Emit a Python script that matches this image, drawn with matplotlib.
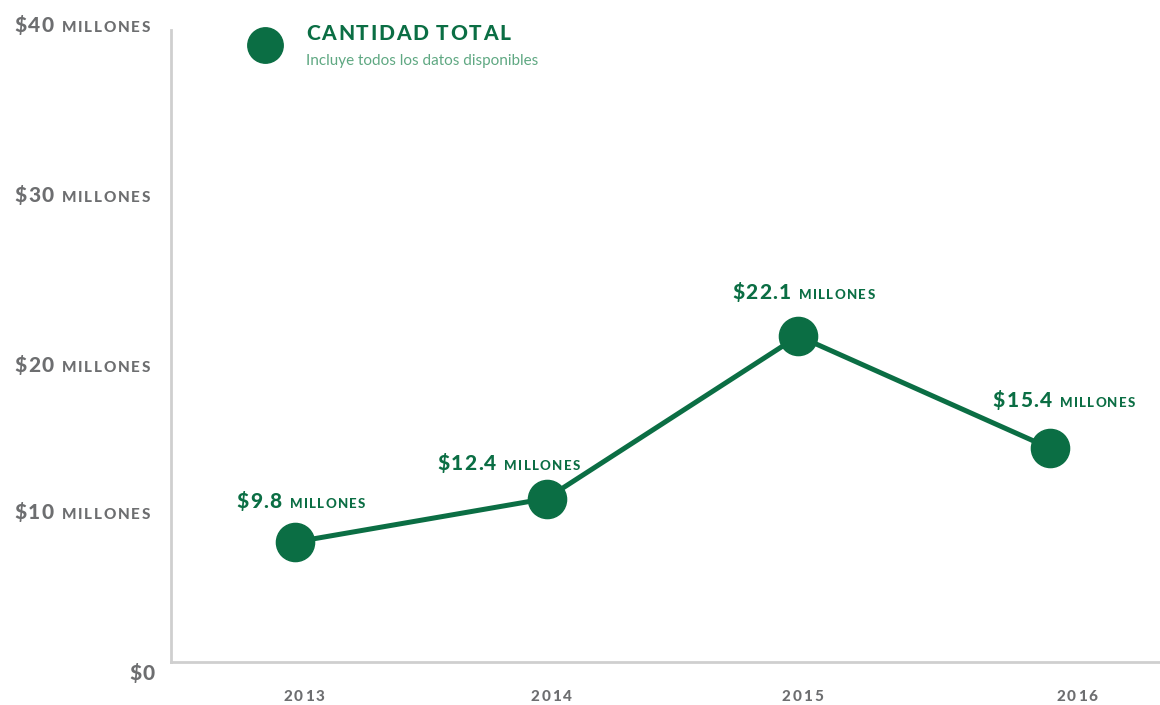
import matplotlib
matplotlib.use("Agg")
import matplotlib.pyplot as plt
from matplotlib.lines import Line2D
from matplotlib.offsetbox import TextArea, HPacker, AnnotationBbox

plt.rcParams['font.family'] = ['Lato', 'DejaVu Sans']

years = [2013, 2014, 2015, 2016]
amounts = [9.8, 12.4, 22.1, 15.4]          # millones de dólares
value_labels = ['$9.8', '$12.4', '$22.1', '$15.4']
ytick_names = ['$0', '$10', '$20', '$30', '$40']
ytick_pos = [1.98, 11.6, 20.37, 30.52, 40.67]

GREEN = '#0b6e44'
LIGHT_GREEN = '#5fa882'
GRAY = '#6d6e70'
AXIS = '#cfcfcf'

PX = 0.72  # points per pixel at dpi 100

# label nudges in pixels (dx, dy above the marker centre)
value_nudge = [(6, 41), (-38, 36), (5, 44), (14, 48)]
year_nudge = [9, 5, 4, 27]


def spaced(text, color, size, gap, weight='black'):
    """Letter-spaced text: one TextArea per glyph, words packed apart."""
    words = []
    for word in text.split(' '):
        chars = [TextArea(c, textprops=dict(color=color, fontsize=size,
                                            fontweight=weight))
                 for c in word]
        words.append(HPacker(children=chars, align='baseline', pad=0,
                             sep=gap * PX))
    if len(words) == 1:
        return words[0]
    return HPacker(children=words, align='baseline', pad=0,
                   sep=(gap + size * 0.3 / PX) * PX)


def amount_box(big, color, big_size, small_size, big_gap, small_gap, sep=8):
    parts = [spaced(big, color, big_size, big_gap)]
    if big != '$0':
        parts.append(spaced('MILLONES', color, small_size, small_gap))
    return HPacker(children=parts, align='baseline', pad=0, sep=sep * PX)


fig = plt.figure(figsize=(11.6, 7.05), dpi=100)
ax = fig.add_axes([171 / 1160, 43 / 705, 989 / 1160, 632 / 705])

ax.plot(years, amounts, color=GREEN, lw=3.6, zorder=2)
ax.plot(years, amounts, 'o', color=GREEN, ms=27.5, zorder=3)

ax.set_xlim(2012.508, 2016.437)
ax.set_ylim(2.64, 40.37)

for side in ['top', 'right']:
    ax.spines[side].set_visible(False)
for side in ['left', 'bottom']:
    ax.spines[side].set_color(AXIS)
    ax.spines[side].set_linewidth(2)

ax.set_xticks([])
ax.set_yticks([])

# y axis labels
for name, pos in zip(ytick_names, ytick_pos):
    box = amount_box(name, GRAY, 15, 11, 1.2, 1.8)
    dx = -16 if name == '$0' else -21
    ax.add_artist(AnnotationBbox(box, (0, pos),
                                 xycoords=('axes fraction', 'data'),
                                 xybox=(dx * PX, 0), boxcoords='offset points',
                                 box_alignment=(1, 0.5), frameon=False,
                                 annotation_clip=False))

# year labels
for yr, dx in zip(years, year_nudge):
    box = spaced(str(yr), GRAY, 11, 2.0)
    ax.add_artist(AnnotationBbox(box, (yr, 0),
                                 xycoords=('data', 'axes fraction'),
                                 xybox=(dx * PX, -35 * PX),
                                 boxcoords='offset points',
                                 box_alignment=(0.5, 0.5), frameon=False,
                                 annotation_clip=False))

# value labels above each point
for x, y, lab, (dx, dy) in zip(years, amounts, value_labels, value_nudge):
    box = amount_box(lab, GREEN, 15, 9.5, 1.4, 1.3)
    ax.add_artist(AnnotationBbox(box, (x, y), xybox=(dx * PX, dy * PX),
                                 boxcoords='offset points',
                                 box_alignment=(0.5, 0.5), frameon=False,
                                 annotation_clip=False))

# legend
fig.add_artist(Line2D([265 / 1160], [1 - 45 / 705], marker='o', ms=25.5,
                      color=GREEN, transform=fig.transFigure))
fig.add_artist(AnnotationBbox(spaced('CANTIDAD TOTAL', GREEN, 15, 1.7),
                              (306 / 1160, 1 - 34 / 705),
                              xycoords='figure fraction',
                              box_alignment=(0, 0.5), frameon=False))
fig.text(306 / 1160, 1 - 61 / 705, 'Incluye todos los datos disponibles',
         color=LIGHT_GREEN, fontsize=11, fontweight='normal',
         ha='left', va='center')

fig.savefig('out.png', dpi=100, facecolor='white')
